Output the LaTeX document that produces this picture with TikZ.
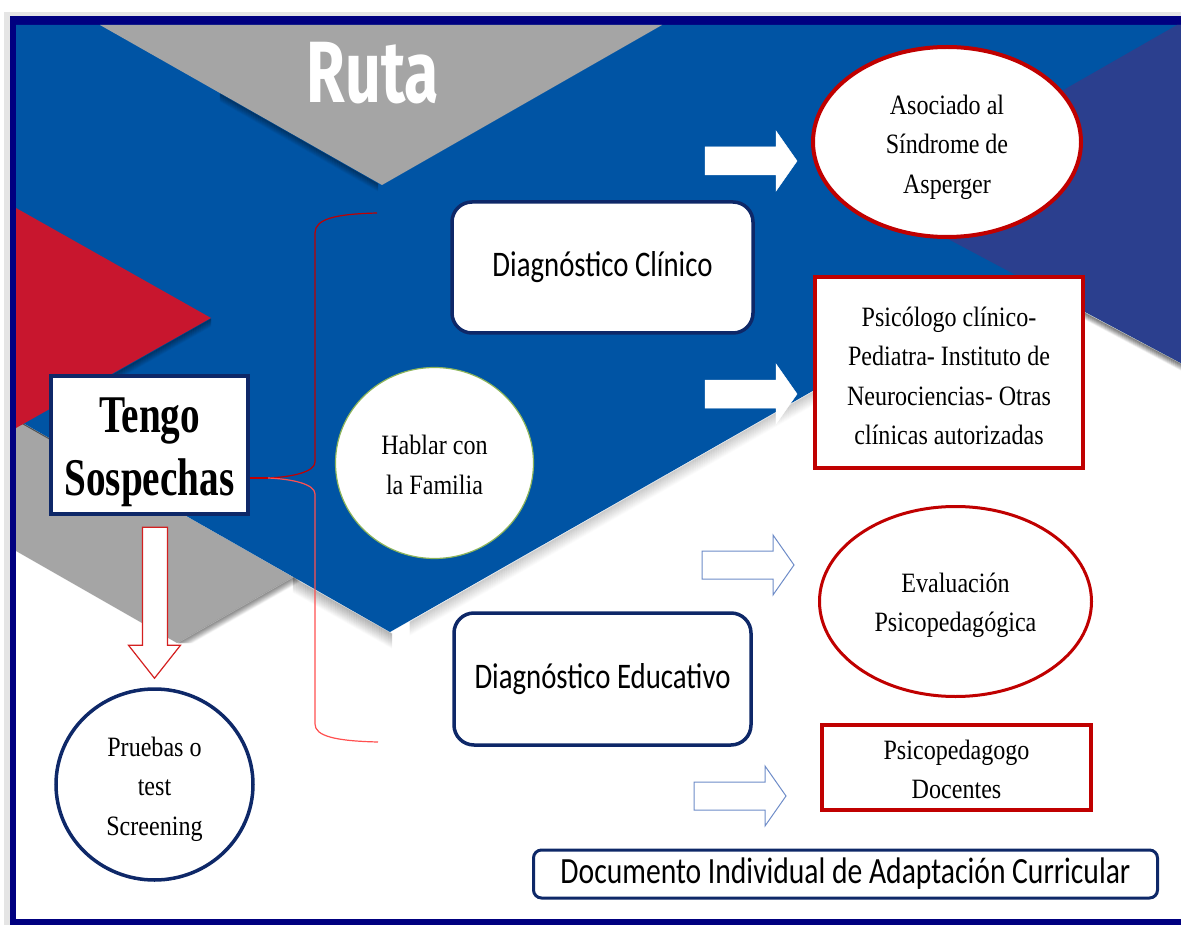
\documentclass[tikz,border=0pt]{standalone}
\usepackage{fontspec}
\usepackage{tikz}
\usetikzlibrary{shapes.geometric,positioning,calc}
\newfontfamily\rutafont{Fira Sans}[FakeStretch=0.72]
\newfontfamily\serifnarrow{Liberation Serif}[FakeStretch=0.86]
\newfontfamily\tengofont{Liberation Serif}[FakeStretch=0.74]
\newfontfamily\calibrinarrow{Carlito}[FakeStretch=0.8]
\newcommand{\toproom}[1]{\rule{0pt}{#1}}
\definecolor{bgblue}{RGB}{0,84,164}
\definecolor{bgnavy}{RGB}{43,63,142}
\definecolor{bggrey}{RGB}{165,165,165}
\definecolor{bgred}{RGB}{200,22,46}
\definecolor{framenavy}{RGB}{0,0,128}
\definecolor{boxnavy}{RGB}{14,40,104}
\definecolor{boxred}{RGB}{192,0,0}
\definecolor{circlegreen}{RGB}{140,180,90}
\definecolor{arrowline}{RGB}{110,140,200}
\definecolor{arrowred}{RGB}{212,32,32}
\definecolor{bracelight}{RGB}{255,80,80}

\begin{document}
\begin{tikzpicture}[x=1pt, y=-1pt,
    seriftext/.style={font=\serifnarrow\fontsize{28}{39.5}\selectfont, align=center, inner sep=0pt},
    calibritext/.style={font=\calibrinarrow\fontsize{36}{40}\selectfont, align=center, inner sep=0pt},
    navyline/.style={draw=boxnavy, line width=3.5pt, fill=white},
    redline/.style={draw=boxred, line width=4pt, fill=white},
    solidarrow/.style={fill=white, draw=white, line width=0.5pt},
    openarrow/.style={fill=white, draw=arrowline, line width=1pt},
    downarrow/.style={fill=white, draw=arrowred, line width=1.2pt},
    braceupper/.style={draw=boxred, line width=1.2pt},
    bracelower/.style={draw=bracelight, line width=1.2pt},
    softshade/.style={draw=black, line width=1.2pt}]
    \useasboundingbox (0,0) rectangle (1181,925);

    % Page and frame
    \fill[white] (0,0) rectangle (1181,925);
    \fill[black!10] (4,12) rectangle (1181,925);
    \fill[framenavy] (10,16) rectangle (1181,925);
    \fill[white] (16,25) rectangle (1181,919);

    % Background bands
    \fill[bggrey] (16,419) -- (293,577) -- (177,643) -- (16,551) -- cycle;
    % soft shadow right of the grey band
    \foreach \i [evaluate=\i as \op using 0.22*(1-\i/16)] in {1,...,15} {
        \draw[softshade, opacity=\op, shift={(\i,0)}] (177,643) -- (293,577);
        \draw[softshade, opacity=\op, shift={(0,\i)}] (293,577) -- (392,633);
    }
    \fill[bgblue] (16,25) -- (1181,25) -- (1181,363) -- (1016,275) -- (390,632) -- (16,419) -- cycle;
    % soft shadow under the blue band
    \foreach \i [evaluate=\i as \op using 0.15*(1-\i/15)] in {1,...,14} {
        \draw[softshade, opacity=\op, shift={(0,\i)}, line cap=round] (410,621) -- (820,387);
    }
    \draw[black, opacity=0.5, line width=1pt] (16,420) -- (120,479);
    \fill[bgnavy] (1177,25) -- (1181,25) -- (1181,363) -- (873,199) -- cycle;
    % shadow under the navy band
    \foreach \i [evaluate=\i as \op using 0.45*(1-\i/8)] in {1,...,7} {
        \draw[softshade, opacity=\op, shift={(0,\i)}] (1030,283) -- (1181,363);
    }
    \fill[bgred] (16,208) -- (211,318) -- (16,428) -- cycle;
    \foreach \i [evaluate=\i as \op using 0.3*(1-\i/9)] in {1,...,8} {
        \draw[softshade, opacity=\op, shift={(0,\i)}] (70,398) -- (211,318);
    }
    \fill[bggrey] (100,25) -- (662,25) -- (382,185) -- cycle;
    \foreach \i [evaluate=\i as \op using 0.3*(1-\i/9)] in {1,...,8} {
        \draw[softshade, opacity=\op, shift={(0,\i)}] (220,93) -- (378,183);
    }

    % Title
    \node[text=white, font=\rutafont\bfseries\fontsize{87}{90}\selectfont] (title) at (373,73) {Ruta};

    % Left column
    \node[navyline, rectangle, minimum width=197pt, minimum height=138pt, align=center, inner sep=0pt,
        font=\tengofont\bfseries\fontsize{53}{63}\selectfont] (tengo) at (149.5,445)
        {\toproom{49pt}Tengo\\Sospechas};
    \node[seriftext, navyline, ellipse, minimum width=197pt, minimum height=191pt] (pruebas) at (154.5,784.5)
        {\toproom{29pt}Pruebas o\\test\\Screening};
    \node[seriftext, ellipse, fill=white, draw=circlegreen, line width=1.2pt,
        minimum width=198pt, minimum height=191pt] (familia) at (434.5,463) {\toproom{23pt}Hablar con\\la Familia};

    % Diagnosis boxes
    \node[calibritext, navyline, rounded corners=20pt, minimum width=301pt, minimum height=131pt] (clinico)
        at (602.5,267.5) {Diagnóstico Clínico};
    \node[calibritext, navyline, rounded corners=20pt, minimum width=297pt, minimum height=132pt] (educativo)
        at (602.5,679) {Diagnóstico Educativo};

    % Right column
    \node[seriftext, redline, ellipse, minimum width=268pt, minimum height=190pt] (asperger) at (947,142)
        {\toproom{30pt}Asociado al\\Síndrome de\\Asperger};
    \node[seriftext, redline, rectangle, minimum width=268pt, minimum height=191pt] (clinicas) at (949,372.5)
        {\toproom{26pt}Psicólogo clínico-\\Pediatra- Instituto de\\Neurociencias- Otras\\clínicas autorizadas};
    \node[seriftext, redline, line width=3pt, ellipse, minimum width=272pt, minimum height=190pt] (evaluacion)
        at (955.5,601.5) {\toproom{27pt}Evaluación\\Psicopedagógica};
    \node[seriftext, redline, line width=3.5pt, rectangle, minimum width=269pt, minimum height=85pt] (docentes)
        at (956.5,767.5) {\toproom{23pt}Psicopedagogo\\Docentes};
    \node[calibritext, navyline, line width=3pt, rounded corners=8pt, minimum width=624pt, minimum height=48pt,
        font=\calibrinarrow\fontsize{37}{40}\selectfont] (documento) at (845.5,874)
        {Documento Individual de Adaptación Curricular};

    % Brace
    \coordinate (bracetop) at (377,213);
    \coordinate (bracetip) at (268,478);
    \coordinate (bracebot) at (378,742);
    \draw[braceupper] (bracetop) .. controls (335,214) and (315,219) .. (315,233) -- (315,462)
        .. controls (315,472) and (292,477) .. (bracetip);
    \draw[bracelower] (bracetip) .. controls (292,479) and (315,484) .. (315,494) -- (315,724)
        .. controls (315,736) and (335,741) .. (bracebot);
    \draw[boxred, line width=2pt] (tengo.east |- bracetip) -- (bracetip);

    % Block arrows
    \foreach \ax/\ay/\astyle in {705/161/solidarrow, 705/394/solidarrow, 702/565/openarrow, 694/796/openarrow} {
        \draw[\astyle, shift={(\ax,\ay)}] (0,-14) -- (71,-14) -- (71,-30) -- (92,0) -- (71,30) -- (71,14) -- (0,14) -- cycle;
    }
    \draw[downarrow, shift={(pruebas.north)}] (-12,-160) -- (13,-160) -- (13,-42) -- (26,-42) -- (0,-9)
        -- (-26,-42) -- (-12,-42) -- cycle;
\end{tikzpicture}
\end{document}
